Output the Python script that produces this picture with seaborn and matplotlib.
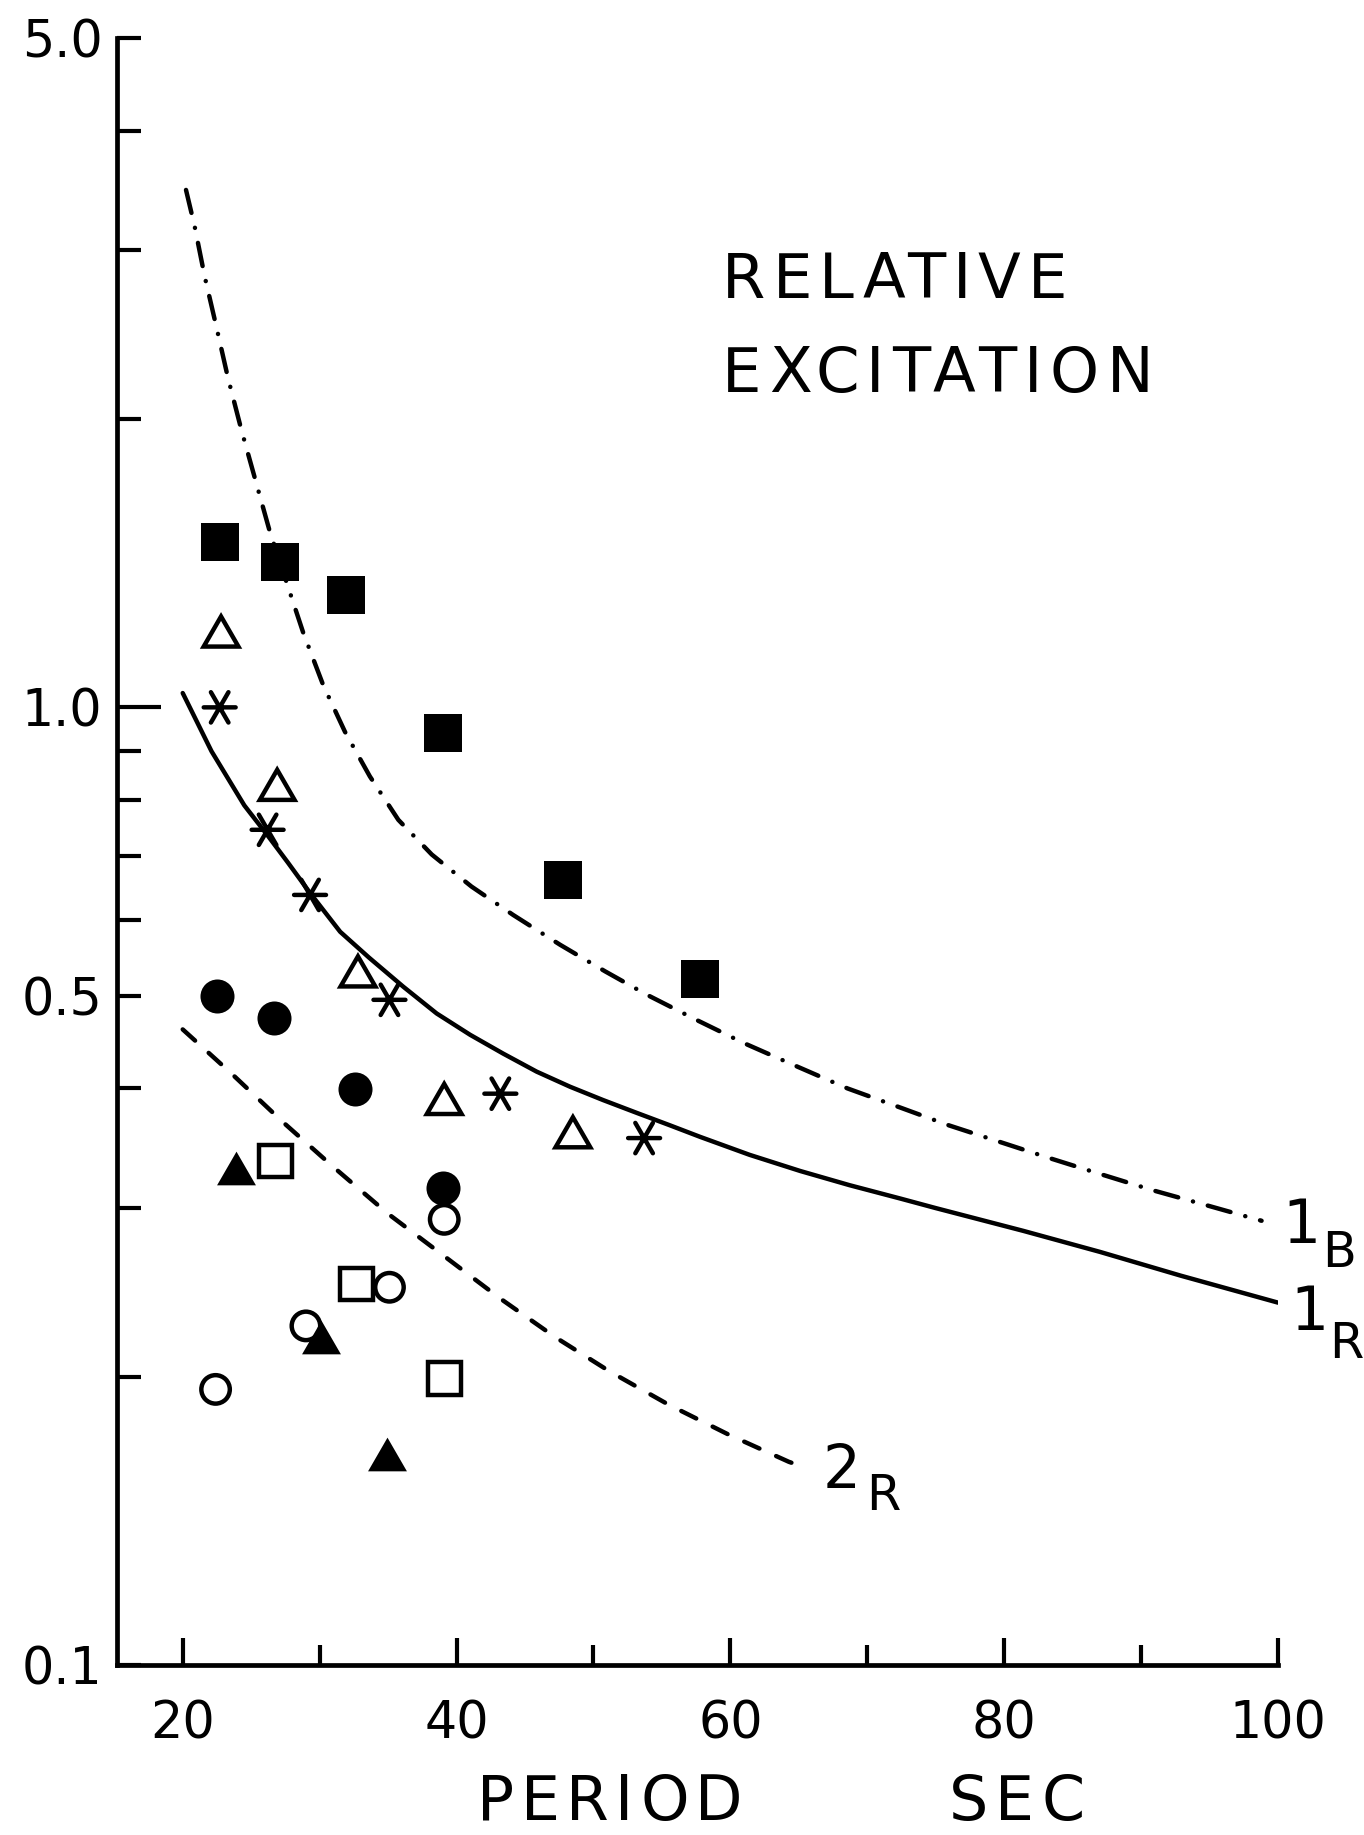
import numpy as np
import pandas as pd
import matplotlib
matplotlib.use("Agg")
import matplotlib.pyplot as plt
import matplotlib.transforms as mtransforms
from matplotlib.path import Path
from matplotlib.font_manager import FontProperties
from matplotlib.ticker import NullFormatter, FixedLocator, FixedFormatter
import seaborn as sns

# ---------------------------------------------------------------- data
# theoretical curves: period (s) vs relative excitation
mode_1b_period = [20.24, 20.87, 21.6, 22.45, 23.3, 24.28, 26.36, 28.79, 30.26, 31.85,
                  33.67, 35.75, 38.19, 41.09, 44.14, 47.57, 50.86, 53.91, 57.48, 61.0,
                  64.9, 68.56, 72.2, 75.97, 83.4, 87.2, 90.9, 94.8, 98.8]
mode_1b_excitation = [3.47, 3.18, 2.82, 2.50, 2.21, 1.95, 1.526, 1.198, 1.055, 0.943,
                      0.847, 0.763, 0.702, 0.650, 0.607, 0.565, 0.530, 0.501, 0.472, 0.446,
                      0.4215, 0.400, 0.383, 0.366, 0.338, 0.325, 0.313, 0.302, 0.291]

mode_1r_period = [20.0, 22.1, 24.5, 26.2, 27.7, 29.3, 31.5, 33.6, 36.1, 38.55, 41.0,
                  43.4, 45.85, 48.3, 50.7, 53.2, 55.6, 57.8, 61.4, 65.1, 68.7, 72.4,
                  75.0, 81.4, 87.0, 92.9, 100.0]
mode_1r_excitation = [1.035, 0.900, 0.790, 0.735, 0.688, 0.640, 0.583, 0.548, 0.511,
                      0.479, 0.455, 0.435, 0.4165, 0.4016, 0.389, 0.377, 0.366, 0.356,
                      0.341, 0.328, 0.317, 0.307, 0.300, 0.284, 0.270, 0.255, 0.239]

mode_2r_period = [20.0, 23.53, 27.31, 30.97, 34.99, 39.14, 43.17, 47.2, 51.2, 55.49,
                  59.88, 64.27, 65.62]
mode_2r_excitation = [0.461, 0.415, 0.369, 0.3315, 0.296, 0.267, 0.2415, 0.220, 0.2025,
                      0.187, 0.174, 0.163, 0.1605]

# observed excitations, one list pair per symbol
filled_square_period = [22.7, 27.1, 31.9, 39.0, 47.8, 57.8]
filled_square_exc = [1.49, 1.42, 1.31, 0.94, 0.66, 0.52]

open_triangle_period = [22.8, 26.9, 32.8, 39.1, 48.5]
open_triangle_exc = [1.20, 0.83, 0.53, 0.39, 0.36]

asterisk_period = [22.7, 26.2, 29.3, 35.1, 43.2, 53.7]
asterisk_exc = [1.00, 0.745, 0.637, 0.495, 0.395, 0.355]

filled_circle_period = [22.5, 26.7, 32.6, 39.0]
filled_circle_exc = [0.50, 0.474, 0.399, 0.315]

filled_triangle_period = [23.9, 30.1, 34.9]
filled_triangle_exc = [0.33, 0.22, 0.166]

open_square_period = [26.8, 32.7, 39.1]
open_square_exc = [0.336, 0.25, 0.199]

open_circle_period = [22.4, 29.0, 35.1, 39.1]
open_circle_exc = [0.194, 0.226, 0.248, 0.292]

x_major_ticks = [20, 40, 60, 80, 100]
x_minor_ticks = [30, 50, 70, 90]
# the unit tick is drawn long; all other excitation ticks are short
y_long_ticks = [1.0]
y_long_labels = ["1.0"]
y_short_ticks = [0.1, 0.2, 0.3, 0.4, 0.5, 0.6, 0.7, 0.8, 0.9, 2.0, 3.0, 4.0, 5.0]
y_short_labels = ["0.1", "", "", "", "0.5", "", "", "", "", "", "", "", "5.0"]

# ---------------------------------------------------------------- style
sns.set_theme(style="white")
plt.rcParams["font.family"] = ["DejaVu Sans"]
plt.rcParams["text.color"] = "black"
plt.rcParams["axes.edgecolor"] = "black"
plt.rcParams["lines.scale_dashes"] = False

INK = "black"
LW = 3.2
EDGE = 3.2

fig = plt.figure(figsize=(13.64, 18.35), dpi=100)
fig.patch.set_facecolor("white")
ax = fig.add_axes([117 / 1364, 170 / 1835, 1161 / 1364, 1627 / 1835])
ax.set_facecolor("white")

# ---------------------------------------------------------------- curves
curve_specs = [
    (mode_1b_period, mode_1b_excitation, (0, (17.0, 11.0, 0.1, 11.0))),
    (mode_1r_period, mode_1r_excitation, "-"),
    (mode_2r_period, mode_2r_excitation, (0, (12.0, 13.2))),
]
for px, py, ls in curve_specs:
    sns.lineplot(x=px, y=py, ax=ax, color=INK, linewidth=LW, linestyle=ls,
                 sort=False, estimator=None, dash_capstyle="round",
                 solid_capstyle="round", solid_joinstyle="round", zorder=2)

# ---------------------------------------------------------------- symbols
tri_path = Path([(-1, -0.866), (1, -0.866), (0, 0.866), (-1, -0.866)],
                [Path.MOVETO, Path.LINETO, Path.LINETO, Path.CLOSEPOLY])
star_path = Path([(-1, 0), (1, 0), (-0.55, -0.95), (0.55, 0.95),
                  (0.55, -0.95), (-0.55, 0.95)],
                 [Path.MOVETO, Path.LINETO] * 3)

symbol_specs = [
    # x, y, marker, size (pt), filled
    (filled_square_period, filled_square_exc, "s", 27.0, True),
    (filled_circle_period, filled_circle_exc, "o", 24.5, True),
    (filled_triangle_period, filled_triangle_exc, tri_path, 28.0, True),
    (open_triangle_period, open_triangle_exc, tri_path, 25.0, False),
    (open_square_period, open_square_exc, "s", 23.5, False),
    (open_circle_period, open_circle_exc, "o", 20.5, False),
    (asterisk_period, asterisk_exc, star_path, 23.0, False),
]
for px, py, mk, size, filled in symbol_specs:
    sns.scatterplot(x=px, y=py, ax=ax, marker=mk, s=size ** 2, color=INK,
                    edgecolor=INK, linewidth=0 if filled else EDGE, zorder=3,
                    legend=False)
    pts = ax.collections[-1]
    if not filled:
        pts.set_facecolor("none")
    pts.set_capstyle("round")
    pts.set_joinstyle("miter")

# ---------------------------------------------------------------- axes
ax.set_yscale("log")
ax.set_xlim(15.2, 100)
ax.set_ylim(0.1, 5.0)

ax.set_xticks(x_major_ticks)
ax.set_xticklabels([str(v) for v in x_major_ticks])
ax.set_xticks(x_minor_ticks, minor=True)
ax.xaxis.set_minor_formatter(NullFormatter())

ax.yaxis.set_major_locator(FixedLocator(y_long_ticks))
ax.yaxis.set_major_formatter(FixedFormatter(y_long_labels))
ax.yaxis.set_minor_locator(FixedLocator(y_short_ticks))
ax.yaxis.set_minor_formatter(FixedFormatter(y_short_labels))

for side in ("top", "right"):
    ax.spines[side].set_visible(False)
for side in ("left", "bottom"):
    ax.spines[side].set_linewidth(3.4)
    ax.spines[side].set_color(INK)
    ax.spines[side].set_capstyle("projecting")

ax.tick_params(axis="both", which="both", direction="in", color=INK, width=3.0,
               labelcolor=INK, labelsize=36.5, bottom=True, left=True,
               top=False, right=False)
ax.tick_params(axis="x", which="major", length=19.5, pad=24.8)
ax.tick_params(axis="x", which="minor", length=14.5)
ax.tick_params(axis="y", which="major", length=32, pad=10.5)
ax.tick_params(axis="y", which="minor", length=17.5, pad=10.5)
ax.grid(False)
ax.set_xlabel("")
ax.set_ylabel("")

fig.canvas.draw()
renderer = fig.canvas.get_renderer()


def ink_width(s, fp):
    return renderer.get_text_width_height_descent(s, fp, ismath=False)[0]


def tracked_text(x, y, s, size, track_px, transform, ha="left"):
    """Draw a string letter by letter with extra spacing between letters."""
    fp = FontProperties(family="DejaVu Sans", size=size)
    total = ink_width(s, fp) + track_px * (len(s) - 1)
    start = 0.0 if ha == "left" else -total / 2.0
    for i, ch in enumerate(s):
        if ch == " ":
            continue
        dx = ink_width(s[:i + 1], fp) - ink_width(ch, fp) + i * track_px
        tr = mtransforms.offset_copy(transform, fig=fig, x=start + dx, y=0,
                                     units="dots")
        ax.text(x, y, ch, transform=tr, ha="left", va="baseline",
                fontproperties=fp, color=INK, clip_on=False)


# axis captions below the period axis
below = mtransforms.blended_transform_factory(ax.transData, ax.transAxes)
tracked_text(51.2, -0.095, "PERIOD", 44.5, 6.5, below, ha="center")
tracked_text(80.9, -0.095, "SEC", 44.5, 7.0, below, ha="center")

# panel title
tracked_text(59.4, 2.676, "RELATIVE", 45, 7.0, ax.transData)
tracked_text(59.4, 2.135, "EXCITATION", 45, 7.5, ax.transData)

# curve names with subscripts
curve_names = [
    ("1", "B", 103.1, 0.2759, 103.2, 0.2603),
    ("1", "R", 103.7, 0.2238, 103.7, 0.2092),
    ("2", "R", 66.74, 0.153, 69.89, 0.1452),
]
for main, sub, mx, my, sx, sy in curve_names:
    ha = "right" if main == "1" else "left"
    ax.text(mx, my, main, ha=ha, va="baseline", fontsize=43, color=INK, clip_on=False)
    ax.text(sx, sy, sub, ha="left", va="baseline", fontsize=35.6, color=INK, clip_on=False)

fig.savefig("out.png", dpi=100, facecolor="white")
